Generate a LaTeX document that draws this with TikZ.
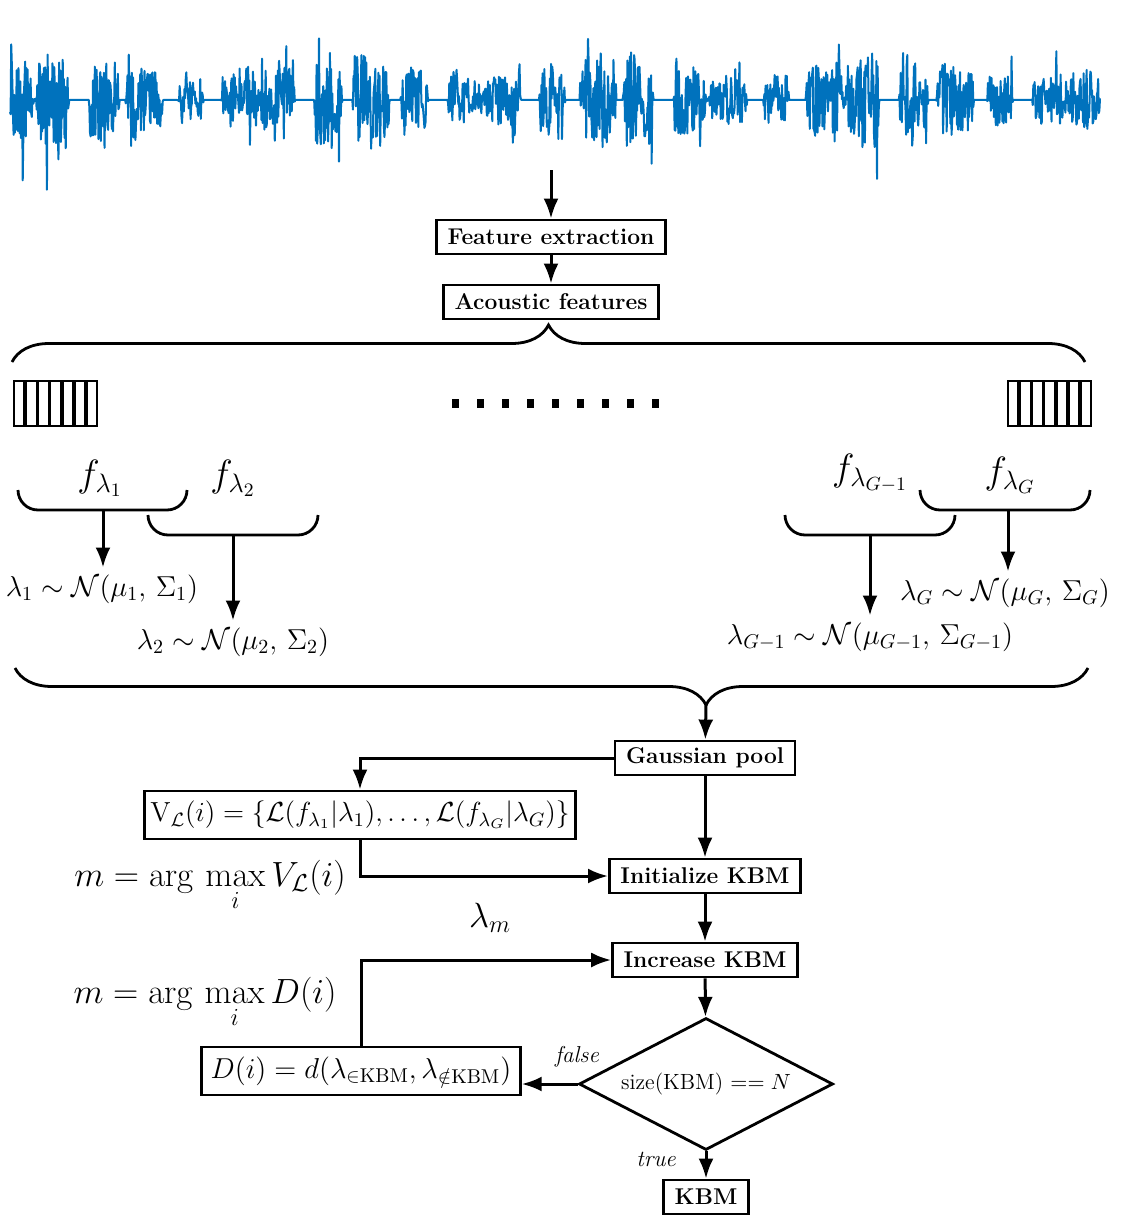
\RequirePackage{fix-cm}
\documentclass[tikz,border=0pt]{standalone}
\usepackage{amsmath,amssymb}
\usetikzlibrary{arrows.meta,shapes.geometric,decorations.pathreplacing}
\definecolor{waveblue}{RGB}{0,114,189}

\begin{document}
\begin{tikzpicture}[x=0.5pt,y=-0.5pt,
    box/.style={draw,line width=1.4pt,inner xsep=5.5pt,minimum height=17pt,font=\fontsize{11.4}{13}\selectfont\bfseries},
    mbox/.style={draw,line width=1.4pt,inner xsep=3pt,minimum height=24pt,font=\fontsize{14.4}{17}\selectfont},
    arr/.style={-{Latex[length=10pt,width=7.5pt]},line width=1.5pt},
    brc/.style={decorate,line width=1.4pt},
    bkt/.style={line width=1.4pt,rounded corners=10pt},
    frm/.style={line width=1.1pt},
    flbl/.style={font=\fontsize{19}{22}\selectfont},
    glbl/.style={font=\fontsize{14.4}{17}\selectfont},
    mlbl/.style={font=\fontsize{17.5}{20}\selectfont},
    tf/.style={font=\fontsize{11.5}{13}\selectfont\itshape},
    declare function={env(\t)=min(1,max(0,5*(sin(8*\t)+0.5*sin(3.1*\t+20)+0.6)))*(0.8+0.3*sin(1.3*\t+10));}]
\useasboundingbox (0,0) rectangle (1125,1220);
\pgfmathsetseed{11}

% signal
\draw[waveblue,line width=1pt,line join=round] plot[domain=10:1100,samples=1800]
  (\x,{100-env(\x)*(44*rand+52*rand*rnd^5)});
\coordinate (sig) at (551,170);

% front end
\node[box] (fe) at (551,237) {Feature extraction};
\node[box] (af) at (551,302) {Acoustic features};
\draw[arr] (sig) -- (fe);
\draw[arr] (fe) -- (af);
\draw[brc,decoration={brace,amplitude=18.5pt}] (12,362) -- (1085,362);

% frames
\foreach \k in {0,...,6} {
  \draw[frm] ({14+\k*12.1},381) rectangle ++(10.5,45);
  \draw[frm] ({1008+\k*12.1},381) rectangle ++(10.5,45);
}
\foreach \k in {0,...,8}
  \fill ({452+\k*25},399) rectangle ++(7,9);

% segments
\draw[bkt] (18,490) -- (18,510) -- (187,510) -- (187,490);
\draw[bkt] (148,515) -- (148,535) -- (318,535) -- (318,515);
\draw[bkt] (785,515) -- (785,535) -- (955,535) -- (955,515);
\draw[bkt] (920,490) -- (920,510) -- (1090,510) -- (1090,490);
\coordinate (b1) at (103,510);
\coordinate (b2) at (233,535);
\coordinate (bg1) at (870,535);
\coordinate (bg) at (1008,510);
\node[flbl] (f1) at (100,478) {$f_{\lambda_1}$};
\node[flbl] (f2) at (233,478) {$f_{\lambda_2}$};
\node[flbl] (fg1) at (870,473) {$f_{\lambda_{G-1}}$};
\node[flbl] (fg) at (1010,475) {$f_{\lambda_G}$};

% gaussians
\node[glbl] (g1) at (102,589) {$\lambda_1\sim\mathcal{N}(\mu_1,\,\Sigma_1)$};
\node[glbl] (g2) at (233,642) {$\lambda_2\sim\mathcal{N}(\mu_2,\,\Sigma_2)$};
\node[glbl] (gg1) at (870,637) {$\lambda_{G-1}\sim\mathcal{N}(\mu_{G-1},\,\Sigma_{G-1})$};
\node[glbl] (gg) at (1005,593) {$\lambda_G\sim\mathcal{N}(\mu_G,\,\Sigma_G)$};
\draw[arr] (b1) -- (b1 |- g1.north);
\draw[arr] (b2) -- (b2 |- g2.north);
\draw[arr] (bg1) -- (bg1 |- gg1.north);
\draw[arr] (bg) -- (bg |- gg.north);
\draw[brc,decoration={brace,mirror,amplitude=18.5pt,aspect=0.644}] (15,668) -- (1088,668);
\coordinate (pt) at (706,705);

% KBM selection
\node[box] (gp) at (705,758) {Gaussian pool};
\draw[arr] (pt) -- (gp);
\node[mbox,font=\fontsize{13.8}{16}\selectfont] (vl) at (360,815) {$\mathrm{V}_{\mathcal{L}}(i)=\{\mathcal{L}(f_{\lambda_1}|\lambda_1),\ldots,\mathcal{L}(f_{\lambda_G}|\lambda_G)\}$};
\node[box] (ik) at (705,876) {Initialize KBM};
\draw[arr] (gp.west) -| (vl.north);
\draw[arr] (gp) -- (ik);
\draw[arr] (vl.south) |- (ik.west);
\node[mlbl] (mv) at (210,886) {$\displaystyle m=\arg\,\max_i V_{\mathcal{L}}(i)$};
\node[mlbl] (lm) at (490,918) {$\lambda_m$};

\node[box] (ic) at (705,960) {Increase KBM};
\draw[arr] (ik) -- (ic);
\node[draw,diamond,aspect=1.92,line width=1.4pt,minimum width=127pt,minimum height=66pt,inner sep=0pt,font=\fontsize{11}{13}\selectfont] (sz) at (706,1084) {size(KBM) $==N$};
\draw[arr] (ic) -- (sz);
\node[mbox,inner xsep=4.5pt] (db) at (361,1071) {$D(i)=d(\lambda_{\in\mathrm{KBM}},\lambda_{\notin\mathrm{KBM}})$};
\draw[arr] (sz.west) -- (sz.west -| db.east);
\draw[arr] (db.north) |- (ic.west);
\node[mlbl] (md) at (205,1003) {$\displaystyle m=\arg\,\max_i D(i)$};
\node[tf] (fl) at (577,1057) {false};
\node[box] (kb) at (706,1197) {KBM};
\draw[arr] (sz.south) -- (kb);
\node[tf] (tr) at (656,1159) {true};
\end{tikzpicture}
\end{document}
